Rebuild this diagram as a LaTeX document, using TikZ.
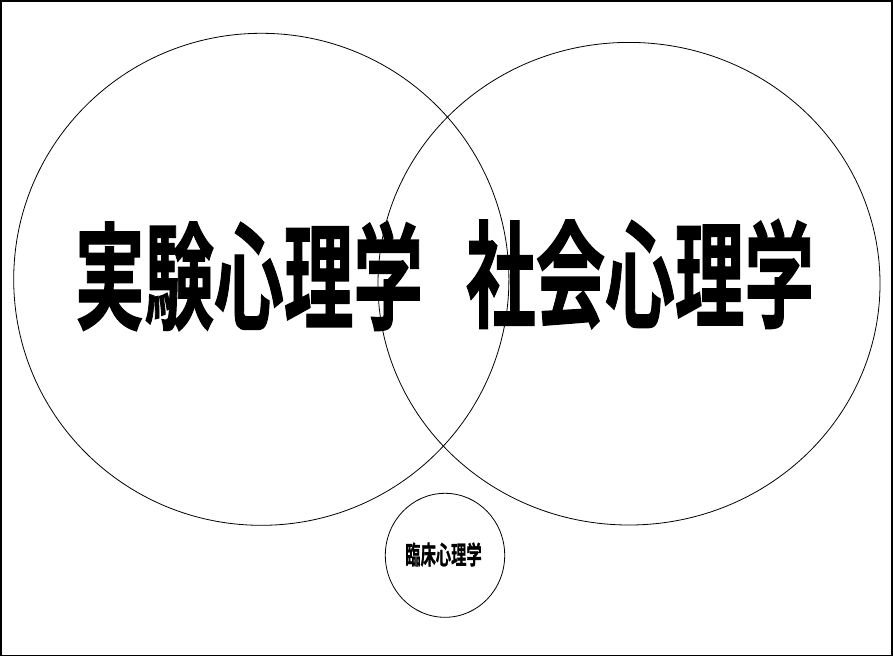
\documentclass[tikz,border=0pt]{standalone}
\usepackage{fontspec}
\newfontfamily\cjk[FakeBold=1.2]{Noto Sans CJK JP Bold}
\begin{document}
\begin{tikzpicture}[x=1pt,y=-1pt,
  ring/.style={draw=black,line width=0.8pt},
  bigtext/.style={font=\cjk\fontsize{116}{116}\selectfont,xscale=0.6,inner sep=0pt},
  smalltext/.style={font=\cjk\fontsize{25.5}{25.5}\selectfont,xscale=0.6,inner sep=0pt}]
\useasboundingbox (0,0) rectangle (893,657);
\draw[line width=1.5pt] (0.9,0.9) rectangle (891.8,655.6);
\draw[ring] (261.3,279.3) ellipse [x radius=247.6, y radius=246];
\draw[ring] (629,283.7) ellipse [x radius=251, y radius=241.3];
\draw[ring] (445,555.3) ellipse [x radius=59.7, y radius=62];
\node[bigtext] (exp) at (249,276) {実験心理学};
\node[bigtext] (soc) at (640,274) {社会心理学};
\node[smalltext] (cli) at (443.5,554.5) {臨床心理学};
\end{tikzpicture}
\end{document}
